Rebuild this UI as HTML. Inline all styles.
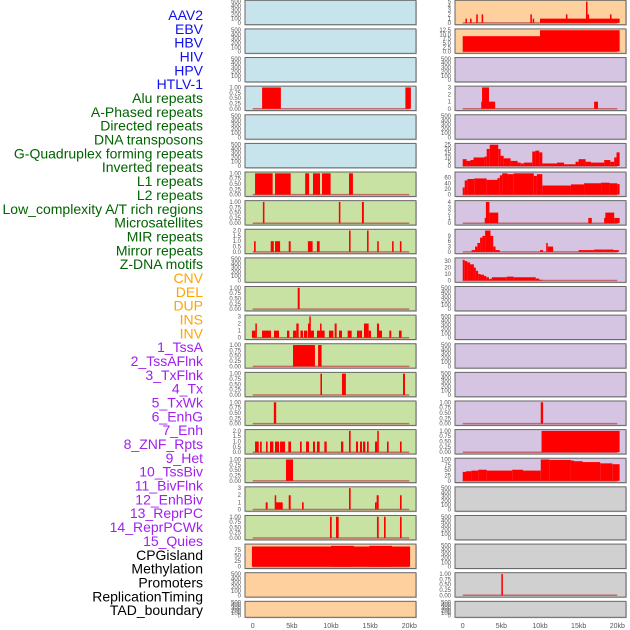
<!DOCTYPE html>
<html><head><meta charset="utf-8"><style>
body{margin:0;background:#fff;}
svg{display:block;font-family:"Liberation Sans",sans-serif;}
</style></head><body>
<svg id="chart" width="630" height="630" viewBox="0 0 630 630" xmlns="http://www.w3.org/2000/svg">
<g id="labels"></g>
<g id="panels"></g>
<g id="xaxes"></g>
</svg>
<script>
const labelNames = ["AAV2","EBV","HBV","HIV","HPV","HTLV-1","Alu repeats","A-Phased repeats","Directed repeats","DNA transposons","G-Quadruplex forming repeats","Inverted repeats","L1 repeats","L2 repeats","Low_complexity A/T rich regions","Microsatellites","MIR repeats","Mirror repeats","Z-DNA motifs","CNV","DEL","DUP","INS","INV","1_TssA","2_TssAFlnk","3_TxFlnk","4_Tx","5_TxWk","6_EnhG","7_Enh","8_ZNF_Rpts","9_Het","10_TssBiv","11_BivFlnk","12_EnhBiv","13_ReprPC","14_ReprPCWk","15_Quies","CPGisland","Methylation","Promoters","ReplicationTiming","TAD_boundary"];
const labelGroups = ["v","v","v","v","v","v","r","r","r","r","r","r","r","r","r","r","r","r","r","s","s","s","s","s","c","c","c","c","c","c","c","c","c","c","c","c","c","c","c","o","o","o","o","o"];
const xTickValues = [0,5,10,15,20];
const xTickLabels = ["0","5kb","10kb","15kb","20kb"];

const t500 = [0,100,200,300,400,500], t500L = ["0","100","200","300","400","500"];
const t1 = [0,0.25,0.5,0.75,1], t1L = ["0.00","0.25","0.50","0.75","1.00"];
const t2 = [0,0.5,1,1.5,2], t2L = ["0.0","0.5","1.0","1.5","2.0"];
const t3 = [0,1,2,3], t3L = ["0","1","2","3"];

const ebvData = [[10.0,20.3,1],[0.35,0.55,1],[0.95,1.15,1],[1.75,1.95,2],[2.45,2.65,2],[8.75,8.95,2],[9.05,9.25,1],[13.35,13.55,2],[15.95,16.15,5],[16.15,16.35,2],[19.05,19.25,2]];
const hivData = [[0,10.0,9],[10.0,20.3,12.5]];
const aluData = [[1.2,3.6,1],[19.5,20.2,1]];
const aphasedData = [[2.4,2.5,1],[2.5,3.4,3],[3.4,4.2,1],[17.0,17.5,1]];
const invertedData = [[0,0.5,8],[0.5,1.0,6],[1.0,1.4,7],[1.4,2.8,10],[2.8,3.1,11],[3.1,3.5,20],[3.5,4.6,25],[4.6,4.9,20],[4.9,5.3,12],[5.3,6.2,9],[6.2,7.1,6],[7.1,7.5,4],[7.5,7.9,3],[7.9,9.0,4],[9.0,9.4,17],[9.4,9.9,18],[9.9,10.3,16],[10.3,12.2,3],[12.2,13.1,4],[13.1,14.6,2],[14.6,15.0,5],[15.0,15.9,8],[15.9,16.6,5],[16.6,18.3,4],[18.3,19.1,7],[19.1,19.6,5],[19.6,19.9,10],[19.9,20.3,16]];
const l1Data = [[0.3,2.55,1],[2.85,4.85,1],[6.7,7.2,1],[7.7,8.6,1],[8.85,9.95,1],[12.3,12.8,1]];
const l2Data = [[0,0.26,25],[0.26,0.6,50],[0.6,1.5,55],[1.5,3.1,57],[3.1,4.5,52],[4.5,4.8,58],[4.8,5.1,68],[5.1,5.8,75],[5.8,6.6,72],[6.6,9.2,75],[9.2,9.6,66],[9.6,10.3,72],[10.3,14.0,32],[14.0,15.7,36],[15.7,17.9,40],[17.9,19.0,42],[19.0,20.0,40],[20.0,20.3,37]];
const lowcData = [[1.3,1.5,1],[11.0,11.2,1],[13.95,14.2,1]];
const microData = [[2.85,3.0,1],[3.0,3.45,4],[3.45,4.6,2],[16.25,16.7,1],[18.3,18.45,1],[18.45,19.6,2],[19.6,20.3,1]];
const mirData = [[0.17,0.38,1],[2.3,2.7,1],[2.85,3.5,1],[4.6,4.85,1],[7.05,7.65,1],[8.2,8.55,1],[12.3,12.5,2],[14.6,14.8,2],[15.9,16.1,1],[17.8,18.0,1],[18.8,19.0,1]];
const mirrorData = [[1.15,1.6,1],[1.6,1.9,3],[1.9,2.25,5],[2.25,2.55,8],[2.55,2.9,9],[2.9,3.6,12],[3.6,3.95,9],[3.95,4.25,3],[4.25,4.8,1],[10.0,10.4,1],[10.8,11.0,5],[11.0,11.7,3],[15.0,17.0,1],[17.0,18.3,1.3],[18.3,19.5,1.3],[19.5,20.2,1]];
const cnvData = [[0,0.26,32],[0.26,0.6,30],[0.6,0.95,28],[0.95,1.45,25],[1.45,1.7,20],[1.7,2.0,15],[2.0,2.3,10],[2.3,2.75,9],[2.75,3.05,7],[3.05,3.4,5],[3.4,3.6,2],[3.6,3.8,3],[3.8,5.7,5],[5.7,6.6,6],[6.6,9.45,5],[9.45,9.9,3],[9.9,10.3,1]];
const delData = [[5.75,6.0,1]];
const insData = [[-0.1,0.34,1],[0.34,0.51,2],[1.19,2.34,1],[2.72,3.36,1],[4.38,4.68,1],[5.15,5.57,1],[5.57,5.87,2],[6.09,6.43,1],[6.55,6.98,1],[7.06,7.23,2],[7.23,7.36,3],[7.36,7.83,1],[8.21,8.6,1],[8.6,8.77,2],[8.77,9.19,1],[9.74,10.3,1],[10.47,10.72,2],[11.02,11.4,1],[12.13,12.64,1],[13.32,13.66,1],[13.66,13.96,1],[14.21,14.81,2],[14.81,15.11,1],[15.87,16.13,2],[16.13,16.51,1],[17.45,17.7,1],[18.68,19.02,1]];
const tssaData = [[5.15,7.95,1],[8.35,8.8,1]];
const txflnkData = [[8.65,8.85,1],[11.4,11.9,1],[19.2,19.45,1]];
const txwkData = [[2.7,3.0,1]];
const enhgData = [[10.1,10.4,1]];
const enhData = [[0.3,0.77,1],[0.94,1.15,1],[1.7,1.91,1],[2.21,2.64,1],[2.85,3.36,1],[3.49,4.13,1],[4.55,4.89,1],[6.04,6.26,1],[6.81,7.19,1],[7.7,7.96,1],[8.21,8.55,1],[9.15,9.45,1],[11.28,11.57,1],[12.3,12.51,2],[13.19,13.45,1],[13.7,13.96,1],[14.09,14.38,1],[14.6,14.81,1],[15.62,15.91,1],[15.91,16.09,2],[17.15,17.36,1],[18.81,19.02,1]];
const znfData = [[10.2,20.3,1]];
const hetData = [[4.25,5.15,1]];
const tssbivData = [[0,0.43,42],[0.43,1.12,45],[1.12,2.0,48],[2.0,3.1,52],[3.1,6.4,48],[6.4,7.8,52],[7.8,10.1,48],[10.1,11.2,100],[11.2,14.0,98],[14.0,14.4,95],[14.4,15.5,92],[15.5,17.8,88],[17.8,19.35,82],[19.35,20.3,78]];
const bivflnkData = [[1.66,1.91,1],[2.81,2.98,2],[2.98,3.83,1],[4.6,4.85,2],[6.3,6.51,1],[12.3,12.51,3],[15.62,15.83,1],[15.83,16.09,2],[18.81,19.02,2]];
const reprpcData = [[9.87,10.09,1],[10.64,10.98,1],[15.87,16.09,1],[16.77,16.98,1],[18.81,19.02,1]];
const quiesData = [[-0.1,20.1,90],[10.0,12.9,93],[14.9,17.8,93]];
const promData = [[5.0,5.2,1]];

const tracks = [
 ["aav2",0,0,500,t500,t500L,[]],["ebv",0,1,5,[0,1,2,3,4,5],["0","1","2","3","4","5"],ebvData],
 ["hbv",1,0,500,t500,t500L,[]],["hiv",1,1,12.5,[0,2.5,5,7.5,10,12.5],["0.0","2.5","5.0","7.5","10.0","12.5"],hivData],
 ["hpv",2,0,500,t500,t500L,[]],["htlv1",2,1,500,t500,t500L,[]],
 ["alu",3,0,1,t1,t1L,aluData],["aphased",3,1,3,t3,t3L,aphasedData],
 ["directed",4,0,500,t500,t500L,[]],["dna-transposons",4,1,500,t500,t500L,[]],
 ["g-quadruplex",5,0,500,t500,t500L,[]],["inverted",5,1,25,[0,5,10,15,20,25],["0","5","10","15","20","25"],invertedData],
 ["l1",6,0,1,t1,t1L,l1Data],["l2",6,1,75,[0,20,40,60],["0","20","40","60"],l2Data],
 ["low-complexity",7,0,1,t1,t1L,lowcData],["microsatellites",7,1,4,[0,1,2,3,4],["0","1","2","3","4"],microData],
 ["mir",8,0,2,t2,t2L,mirData],["mirror",8,1,12,[0,3,6,9],["0","3","6","9"],mirrorData],
 ["z-dna",9,0,500,t500,t500L,[]],["cnv",9,1,33,[0,10,20,30],["0","10","20","30"],cnvData],
 ["del",10,0,1,t1,t1L,delData],["dup",10,1,500,t500,t500L,[]],
 ["ins",11,0,3,t3,t3L,insData],["inv",11,1,500,t500,t500L,[]],
 ["1-tssa",12,0,1,t1,t1L,tssaData],["2-tssaflnk",12,1,500,t500,t500L,[]],
 ["3-txflnk",13,0,1,t1,t1L,txflnkData],["4-tx",13,1,500,t500,t500L,[]],
 ["5-txwk",14,0,1,t1,t1L,txwkData],["6-enhg",14,1,1,t1,t1L,enhgData],
 ["7-enh",15,0,2,t2,t2L,enhData],["8-znf-rpts",15,1,1,t1,t1L,znfData],
 ["9-het",16,0,1,t1,t1L,hetData],["10-tssbiv",16,1,100,[0,25,50,75,100],["0","25","50","75","100"],tssbivData],
 ["11-bivflnk",17,0,3,t3,t3L,bivflnkData],["12-enhbiv",17,1,500,t500,t500L,[]],
 ["13-reprpc",18,0,1,t1,t1L,reprpcData],["14-reprpcwk",18,1,500,t500,t500L,[]],
 ["15-quies",19,0,95,[0,25,50,75],["0","25","50","75"],quiesData],["cpgisland",19,1,500,t500,t500L,[]],
 ["methylation",20,0,500,t500,t500L,[]],["promoters",20,1,1,t1,t1L,promData],
 ["replication-timing",21,0,500,t500,t500L,[]],["tad-boundary",21,1,500,t500,t500L,[]]
];

const NS="http://www.w3.org/2000/svg";
function mk(tag, attrs, parent){const e=document.createElementNS(NS,tag);for(const k in attrs)e.setAttribute(k,attrs[k]);parent.appendChild(e);return e;}
const groupColor={v:"#1010ee",r:"#006400",s:"#ffa500",c:"#a020f0",o:"#000000"};
const labelsG=document.getElementById("labels");
labelNames.forEach((n,i)=>{
  const t=mk("text",{x:203,y:15+13.84*i+5,"text-anchor":"end","font-size":"14",fill:groupColor[labelGroups[i]]},labelsG);
  t.textContent=n;
  
  
});
function xScale(col,kb){return col===0?252.7+kb*7.83:462.7+kb*7.73;}
function panelBg(row,col){
  if(col===0){if(row<=5)return "#c7e4ec";if(row<=18)return "#c8e2a4";return "#fed09e";}
  if(row<=1)return "#fed09e";if(row<=16)return "#d5c5e2";return "#d0d0d0";
}
const panelsG=document.getElementById("panels");
tracks.forEach(tr=>{
  const [name,row,col,ymax,ticks,tickL,data]=tr;
  const top=0.3+28.62*row, h=row===21?16:24.4;
  const x0=col===0?245:455, x1=col===0?416:626;
  const g=mk("g",{},panelsG);
  
  
  mk("rect",{x:x0+1,y:top+1,width:x1-x0,height:h,fill:"#aaa",opacity:0.5},g);
  const bg=mk("rect",{x:x0,y:top,width:x1-x0,height:h,fill:panelBg(row,col),stroke:"#666","stroke-width":1},g);
  
  
  const yb=top+h-1.8, yt=top+1.3;
  const yS=v=>yb-(v/ymax)*(yb-yt);
  ticks.forEach((v,i)=>{
    const t=mk("text",{x:x0-4,y:yS(v)+2,"text-anchor":"end","font-size":"6",fill:"#555"},g);
    t.textContent=tickL[i];
    
    
  });
  if(data.length){
    const bl=mk("line",{x1:xScale(col,0),x2:xScale(col,20),y1:yb,y2:yb,stroke:"#c05050","stroke-width":1.5,opacity:0.8},g);
    
    
  }
  data.forEach(d=>{
    const xa=xScale(col,d[0]), xb=xScale(col,d[1]);
    const r=mk("rect",{x:xa,y:yS(d[2]),width:Math.max(1.5,xb-xa),height:yb-yS(d[2]),fill:"#ff0000"},g);
    
    
  });
});
const xg=document.getElementById("xaxes");
[0,1].forEach(col=>{
  xTickValues.forEach((v,i)=>{
    const t=mk("text",{x:xScale(col,v),y:628,"text-anchor":"middle","font-size":"7",fill:"#555"},xg);
    t.textContent=xTickLabels[i];
    
    
  });
});
</script>
</body></html>
